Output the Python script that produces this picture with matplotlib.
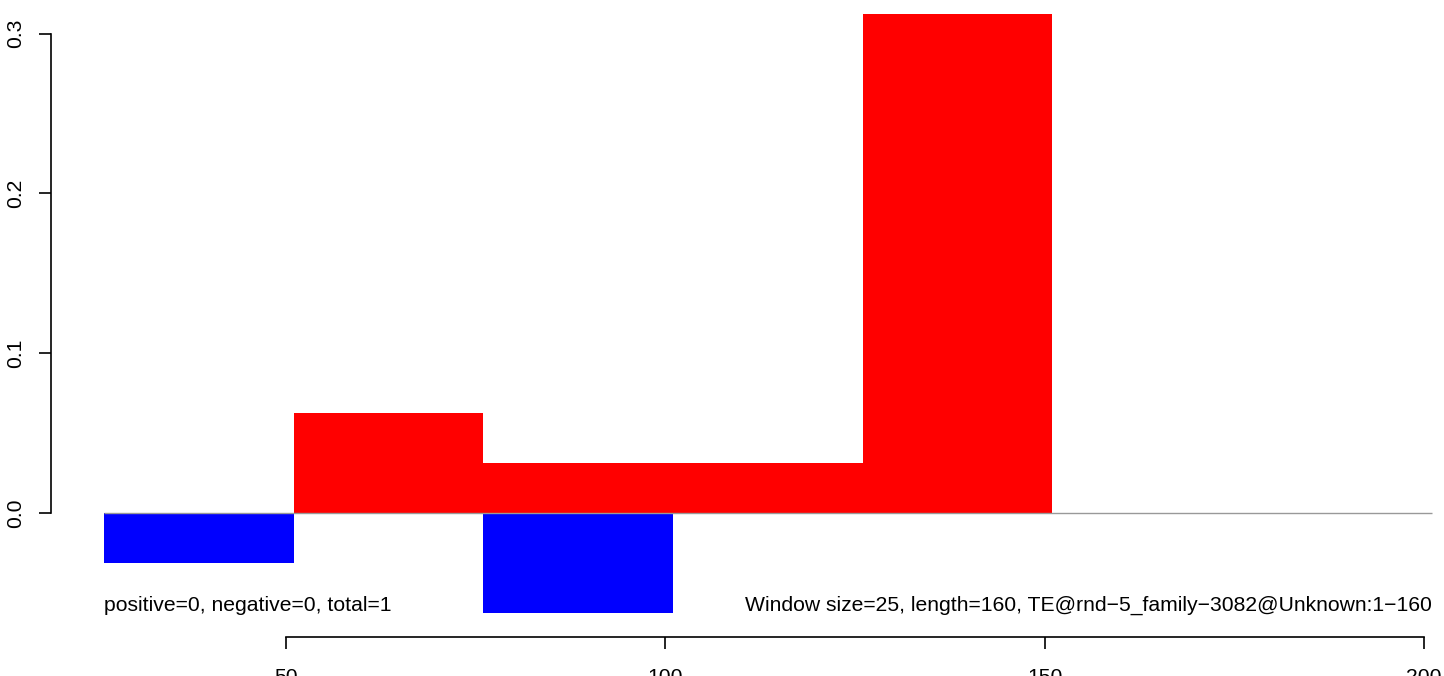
import matplotlib
matplotlib.use('Agg')
import matplotlib.pyplot as plt

# window starts (size 25) and the scores per window
window_starts = [26, 51, 76, 101, 126, 151, 176]
window_size = 25
positive = [0, 0.0625, 0.03125, 0.03125, 0.3125, 0, 0]
negative = [-0.03125, 0, -0.0625, 0, 0, 0, 0]
x_ticks = [50, 100, 150, 200]
y_ticks = [0.0, 0.1, 0.2, 0.3]
left_note = 'positive=0, negative=0, total=1'
right_note = 'Window size=25, length=160, TE@rnd\u22125_family\u22123082@Unknown:1\u2212160'

plt.rcParams['font.family'] = ['Liberation Sans', 'DejaVu Sans']

fig = plt.figure(figsize=(14.44, 6.76), dpi=100)
ax = fig.add_axes([0, 0, 1, 1])
ax.set_xlim(12.30, 202.64)
ax.set_ylim(-0.1020, 0.3210)

ax.bar(window_starts, positive, width=window_size, align='edge', color='#ff0000', linewidth=0)
ax.bar(window_starts, negative, width=window_size, align='edge', color='#0000ff', linewidth=0)
x_end = window_starts[-1] + window_size
ax.hlines(0, window_starts[0], x_end, color='#999999', linewidth=1.0, zorder=3)

ax.text(window_starts[0], -0.0576, left_note, fontsize=15.25, ha='left', va='center')
ax.text(x_end, -0.0576, right_note, fontsize=15.25, ha='right', va='center')

# R-style detached axes
for s in ['top', 'right']:
    ax.spines[s].set_visible(False)
ax.spines['left'].set_position(('data', 19.02))
ax.spines['left'].set_bounds(y_ticks[0], y_ticks[-1])
ax.spines['bottom'].set_position(('data', -0.0773))
ax.spines['bottom'].set_bounds(x_ticks[0], x_ticks[-1])
for s in ['left', 'bottom']:
    ax.spines[s].set_linewidth(1.2)

ax.set_xticks(x_ticks)
ax.set_xticklabels([str(t) for t in x_ticks])
ax.set_yticks(y_ticks)
ax.set_yticklabels(['%.1f' % t for t in y_ticks], rotation=90, va='center')
ax.tick_params(axis='both', direction='out', length=8.6, width=1.2, labelsize=15.25)
ax.tick_params(axis='x', pad=14)
ax.tick_params(axis='y', pad=10)

fig.savefig('out.png', dpi=100)
